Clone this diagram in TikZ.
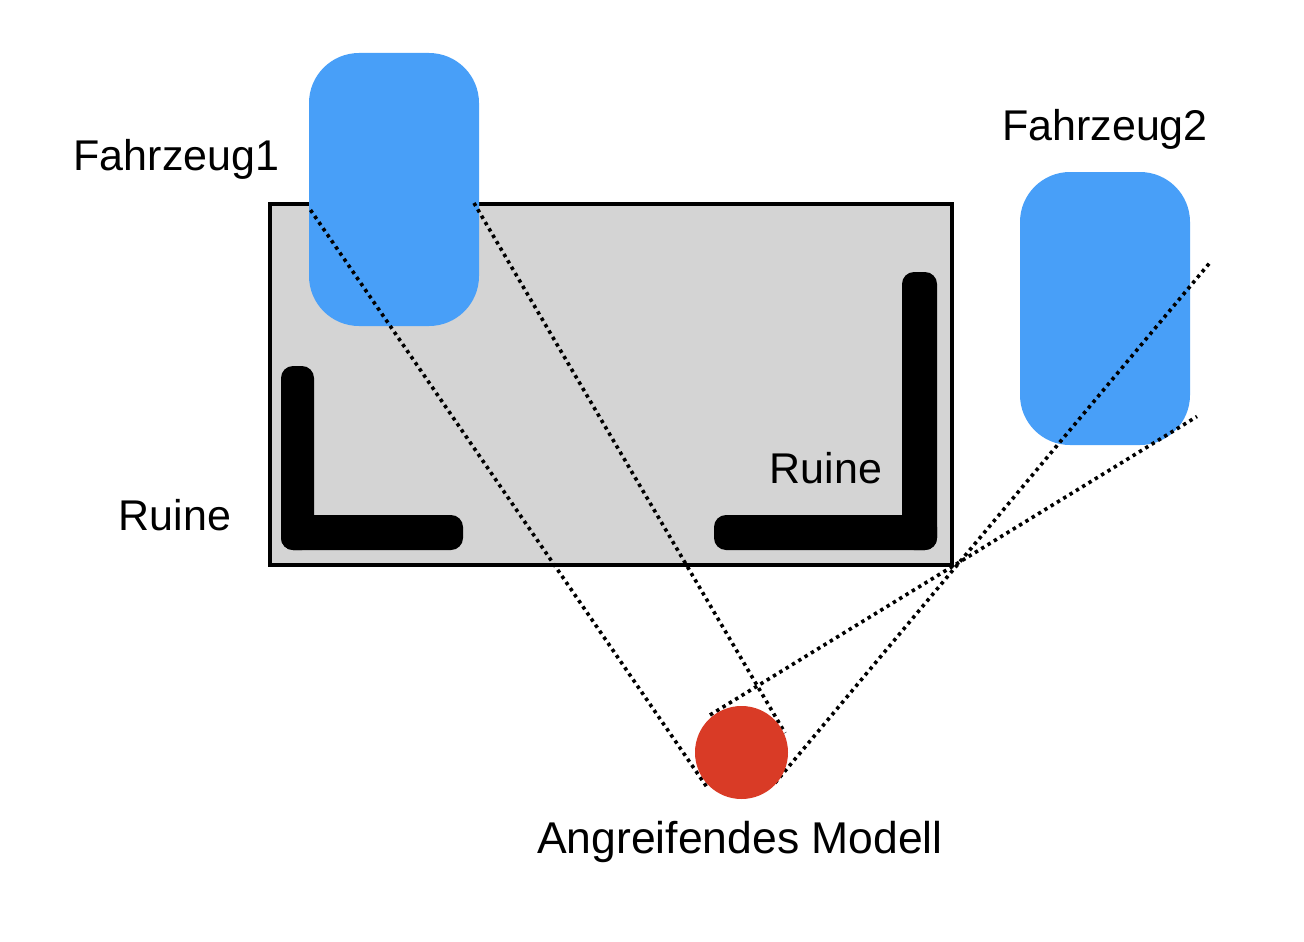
\documentclass[tikz,border=0pt]{standalone}
\usepackage{fontspec}
\setmainfont{Liberation Sans}
\definecolor{vblue}{RGB}{72,159,248}
\definecolor{rgray}{RGB}{212,212,212}
\definecolor{mred}{RGB}{217,59,38}
\begin{document}
\begin{tikzpicture}[x=1pt,y=-1pt,
  vehicle/.style={fill=vblue, draw=none, rounded corners=50pt, inner sep=0pt, minimum width=170pt, minimum height=273pt},
  ruinbar/.style={fill=black, rounded corners=12pt},
  sight/.style={line width=3.6pt, dash pattern=on 3.4pt off 4pt},
  lbl/.style={font=\fontsize{43}{50}\selectfont, anchor=base, inner sep=0pt}]
\useasboundingbox (0,0) rectangle (1304,942);
% ruin area
\node[draw=black, line width=4pt, fill=rgray, inner sep=0pt, minimum width=682pt, minimum height=361pt] (area) at (611,384.5) {};
% vehicles
\node[vehicle] (v1) at (394,189.5) {};
\node[vehicle] (v2) at (1105,308.5) {};
% ruins
\fill[ruinbar] (281,366) rectangle (314,550);
\fill[ruinbar] (281,515) rectangle (463,550);
\fill[ruinbar] (902,272) rectangle (937,550);
\fill[ruinbar] (714,515) rectangle (937,550);
% sight lines
\coordinate (a1) at (310.5,210);
\coordinate (a2) at (474,203);
\coordinate (b1) at (1210,262.5);
\coordinate (b2) at (1197,416.5);
\coordinate (m1) at (706.5,786.5);
\coordinate (m2) at (785,733);
\coordinate (m3) at (775,783);
\coordinate (m4) at (710,715);
\draw[sight] (a1) -- (m1);
\draw[sight] (a2) -- (m2);
\draw[sight] (m3) -- (b1);
\draw[sight] (m4) -- (b2);
% attacker
\node[circle, fill=mred, inner sep=0pt, minimum size=93pt] (m) at (741.5,752.5) {};
% labels
\node[lbl] (t1) at (176.5,170) {Fahrzeug1};
\node[lbl] (t2) at (1105,140) {Fahrzeug2};
\node[lbl] (t3) at (175,530) {Ruine};
\node[lbl] (t4) at (826,483) {Ruine};
\node[lbl, font=\fontsize{44.5}{50}\selectfont] (t5) at (740,853) {Angreifendes Modell};
\end{tikzpicture}
\end{document}
